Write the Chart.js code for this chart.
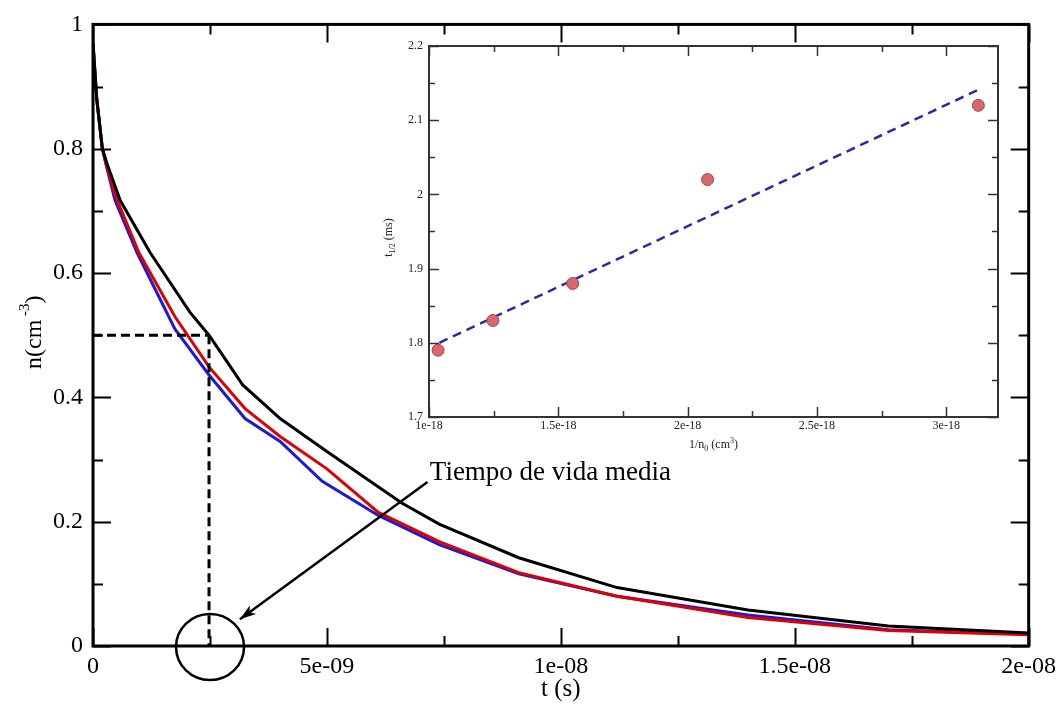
<!DOCTYPE html>
<html>
<head>
<meta charset="utf-8">
<script src="https://cdn.jsdelivr.net/npm/chart.js@4.4.1/dist/chart.umd.min.js"></script>
<style>
  html, body { margin: 0; padding: 0; background: #fff; }
  #wrap { position: relative; width: 1062px; height: 704px; }
  #wrap canvas { position: absolute; left: 0; top: 0; }
</style>
</head>
<body>
<div id="wrap">
  <canvas id="mainChart" width="1062" height="704"></canvas>
  <canvas id="insetChart" width="1062" height="704"></canvas>
</div>
<script>
// main plot, t in ns (ticks are labelled in seconds)
const tBlack = [0, 0.08, 0.2, 0.3, 0.58, 1.22, 2.07, 2.48, 3.2, 4.0, 5.0, 6.6, 7.4, 9.1, 11.2, 14.0, 17.0, 20.0];
const nBlack = [0.97, 0.88, 0.80, 0.776, 0.717, 0.633, 0.537, 0.50, 0.42, 0.366, 0.313, 0.23, 0.196, 0.142, 0.094, 0.058, 0.032, 0.021];

const tRed = [0, 0.08, 0.2, 0.3, 0.5, 0.98, 1.75, 2.48, 3.25, 4.0, 5.0, 6.1, 7.4, 9.1, 11.2, 14.0, 17.0, 20.0];
const nRed = [0.97, 0.88, 0.80, 0.77, 0.72, 0.633, 0.53, 0.449, 0.382, 0.337, 0.285, 0.215, 0.168, 0.118, 0.08, 0.046, 0.025, 0.018];

const tBlue = [0, 0.08, 0.2, 0.3, 0.47, 0.94, 1.75, 2.48, 3.25, 4.0, 4.9, 6.1, 7.4, 9.1, 11.2, 14.0, 17.0, 20.0];
const nBlue = [0.97, 0.88, 0.80, 0.768, 0.717, 0.633, 0.51, 0.436, 0.366, 0.329, 0.265, 0.21, 0.163, 0.116, 0.08, 0.05, 0.026, 0.019];

const xTickLabels = ["0", "5e-09", "1e-08", "1.5e-08", "2e-08"];
const yTickLabels = ["0", "0.2", "0.4", "0.6", "0.8", "1"];

// half-life
const halfLifeT = 2.48;
const halfLifeN = 0.5;

// inset, 1/n0 in units of 1e-18 cm^3
const invN0 = [1.035, 1.247, 1.556, 2.077, 3.124];
const tHalf = [1.79, 1.83, 1.88, 2.02, 2.12];
const fitX = [1.04, 3.13];
const fitY = [1.80, 2.142];

const insetXLabels = ["1e-18", "1.5e-18", "2e-18", "2.5e-18", "3e-18"];
const insetYLabels = ["1.7", "1.8", "1.9", "2", "2.1", "2.2"];

const SERIF = "'Liberation Serif', 'Times New Roman', serif";

function toPoints(xs, ys) {
  return xs.map((x, i) => ({ x: x, y: ys[i] }));
}

function ticksWithMinor(scale) {
  const vals = scale.ticks.map(t => t.value);
  const out = vals.map(v => ({ v: v, major: true }));
  const step = vals[1] - vals[0];
  for (let i = 0; i < vals.length; i++) {
    const m = vals[i] + step / 2;
    if (m <= scale.max + 1e-9) out.push({ v: m, major: false });
  }
  if (vals[0] - step / 2 >= scale.min - 1e-9) out.push({ v: vals[0] - step / 2, major: false });
  return out;
}

// frame + inward ticks on all four sides
const framePlugin = {
  id: "frame",
  afterDatasetsDraw(chart, args, opts) {
    const { ctx, chartArea: a, scales } = chart;
    const x = scales.x, y = scales.y;
    ctx.save();
    ctx.strokeStyle = opts.color;
    ctx.lineWidth = opts.tickWidth;
    ctx.beginPath();
    ticksWithMinor(x).forEach(t => {
      const px = Math.round(x.getPixelForValue(t.v)) + 0.5;
      const l = t.major ? opts.major : opts.minor;
      ctx.moveTo(px, a.bottom); ctx.lineTo(px, a.bottom - l);
      ctx.moveTo(px, a.top); ctx.lineTo(px, a.top + l);
    });
    ticksWithMinor(y).forEach(t => {
      const py = Math.round(y.getPixelForValue(t.v)) + 0.5;
      const l = t.major ? opts.major : opts.minor;
      ctx.moveTo(a.left, py); ctx.lineTo(a.left + l, py);
      ctx.moveTo(a.right, py); ctx.lineTo(a.right - l, py);
    });
    ctx.stroke();
    ctx.lineWidth = opts.frameWidth;
    ctx.strokeRect(a.left, a.top, a.width, a.height);
    ctx.restore();
  }
};

// dashed guides, circle, arrow and label on the main plot
const halfLifePlugin = {
  id: "halfLife",
  afterDatasetsDraw(chart) {
    const { ctx, chartArea: a, scales: { x, y } } = chart;
    const px = x.getPixelForValue(halfLifeT);
    const py = y.getPixelForValue(halfLifeN);
    ctx.save();
    ctx.strokeStyle = "#000";
    ctx.lineWidth = 3;
    ctx.setLineDash([9, 5]);
    ctx.beginPath();
    ctx.moveTo(a.left, py); ctx.lineTo(px, py);
    ctx.moveTo(px, py); ctx.lineTo(px, a.bottom);
    ctx.stroke();
    ctx.setLineDash([]);

    // circle round the half-life on the time axis
    ctx.lineWidth = 2.5;
    ctx.beginPath();
    ctx.ellipse(px + 1, a.bottom + 1, 34, 33, 0, 0, Math.PI * 2);
    ctx.stroke();

    // arrow from the label down to the circle
    const x0 = x.getPixelForValue(7.15), y0 = y.getPixelForValue(0.264);
    const x1 = x.getPixelForValue(3.14), y1 = y.getPixelForValue(0.043);
    ctx.lineWidth = 2.5;
    ctx.beginPath();
    ctx.moveTo(x0, y0); ctx.lineTo(x1, y1);
    ctx.stroke();
    const ang = Math.atan2(y1 - y0, x1 - x0);
    ctx.fillStyle = "#000";
    ctx.beginPath();
    ctx.moveTo(x1, y1);
    ctx.lineTo(x1 - 17 * Math.cos(ang - 0.32), y1 - 17 * Math.sin(ang - 0.32));
    ctx.lineTo(x1 - 12 * Math.cos(ang), y1 - 12 * Math.sin(ang));
    ctx.lineTo(x1 - 17 * Math.cos(ang + 0.32), y1 - 17 * Math.sin(ang + 0.32));
    ctx.closePath();
    ctx.fill();

    ctx.font = "27px " + SERIF;
    ctx.textAlign = "left";
    ctx.textBaseline = "alphabetic";
    ctx.fillText("Tiempo de vida media", x.getPixelForValue(7.2), y.getPixelForValue(0.267));

    // y axis title n(cm^-3)
    ctx.translate(41, (a.top + a.bottom) / 2 - 3);
    ctx.rotate(-Math.PI / 2);
    ctx.font = "24px " + SERIF;
    const w1 = ctx.measureText("n(cm").width;
    ctx.font = "15px " + SERIF;
    const w2 = ctx.measureText(" -3").width;
    ctx.font = "24px " + SERIF;
    const w3 = ctx.measureText(")").width;
    let cx = -(w1 + w2 + w3) / 2;
    ctx.fillText("n(cm", cx, 0); cx += w1;
    ctx.font = "15px " + SERIF;
    ctx.fillText(" -3", cx, -12); cx += w2;
    ctx.font = "24px " + SERIF;
    ctx.fillText(")", cx, 0);
    ctx.restore();
  }
};

// axis titles of the inset, with sub/superscripts
const insetTitlePlugin = {
  id: "insetTitles",
  afterDraw(chart) {
    const { ctx, chartArea: a } = chart;
    ctx.save();
    ctx.fillStyle = "#222";
    ctx.textBaseline = "alphabetic";
    ctx.textAlign = "left";
    const big = "12px " + SERIF, small = "8px " + SERIF;
    const parts = [["1/n", big, 0], ["0", small, 3], [" (cm", big, 0], ["3", small, -5], [")", big, 0]];
    const drawParts = (list, cx0, by) => {
      let total = 0;
      list.forEach(p => { ctx.font = p[1]; total += ctx.measureText(p[0]).width; });
      let cx = cx0 - total / 2;
      list.forEach(p => { ctx.font = p[1]; ctx.fillText(p[0], cx, by + p[2]); cx += ctx.measureText(p[0]).width; });
    };
    drawParts(parts, (a.left + a.right) / 2, a.bottom + 31);

    ctx.translate(a.left - 37, (a.top + a.bottom) / 2 + 6);
    ctx.rotate(-Math.PI / 2);
    drawParts([["t", big, 0], ["1/2", small, 3], [" (ms)", big, 0]], 0, 0);
    ctx.restore();
  }
};

function lineSet(xs, ys, color) {
  return {
    data: toPoints(xs, ys),
    borderColor: color,
    borderWidth: 3,
    pointRadius: 0,
    tension: 0,
    fill: false
  };
}

new Chart(document.getElementById("mainChart"), {
  type: "line",
  data: {
    datasets: [
      lineSet(tBlack, nBlack, "#000000"),
      lineSet(tRed, nRed, "#e00000"),
      lineSet(tBlue, nBlue, "#1a1ad8")
    ]
  },
  options: {
    responsive: false,
    animation: false,
    devicePixelRatio: 1,
    layout: { padding: { top: 20, right: 33, left: 0, bottom: 0 } },
    plugins: {
      legend: { display: false },
      tooltip: { enabled: false },
      frame: { color: "#000", tickWidth: 2, frameWidth: 3, major: 18, minor: 10 }
    },
    scales: {
      x: {
        type: "linear",
        min: 0,
        max: 20,
        afterFit: s => { s.height = 58; },
        grid: { display: false, drawTicks: false },
        border: { display: false },
        ticks: {
          stepSize: 5,
          padding: 6,
          maxRotation: 0,
          autoSkip: false,
          color: "#000",
          font: { family: SERIF, size: 24 },
          callback: (v, i) => xTickLabels[i]
        },
        title: {
          display: true,
          text: "t (s)",
          color: "#000",
          font: { family: SERIF, size: 25 },
          padding: { top: 0, bottom: 0 }
        }
      },
      y: {
        type: "linear",
        min: 0,
        max: 1,
        afterFit: s => { s.width = 93; },
        grid: { display: false, drawTicks: false },
        border: { display: false },
        ticks: {
          stepSize: 0.2,
          padding: 10,
          color: "#000",
          font: { family: SERIF, size: 24 },
          callback: (v, i) => yTickLabels[i]
        }
      }
    }
  },
  plugins: [framePlugin, halfLifePlugin]
});

new Chart(document.getElementById("insetChart"), {
  type: "scatter",
  data: {
    datasets: [
      {
        type: "scatter",
        data: toPoints(invN0, tHalf),
        order: 0,
        pointRadius: 6,
        pointBackgroundColor: "#d9676b",
        pointBorderColor: "#a64646",
        pointBorderWidth: 1
      },
      {
        type: "line",
        data: toPoints(fitX, fitY),
        order: 1,
        borderColor: "#2a2aa8",
        borderWidth: 2.5,
        borderDash: [9, 6],
        pointRadius: 0,
        fill: false
      }
    ]
  },
  options: {
    responsive: false,
    animation: false,
    devicePixelRatio: 1,
    layout: { padding: { top: 46, right: 64, left: 380, bottom: 247 } },
    plugins: {
      legend: { display: false },
      tooltip: { enabled: false },
      frame: { color: "#333", tickWidth: 1.5, frameWidth: 2, major: 10, minor: 6 }
    },
    scales: {
      x: {
        type: "linear",
        min: 1,
        max: 3.2,
        afterFit: s => { s.height = 40; },
        grid: { display: false, drawTicks: false },
        border: { display: false },
        ticks: {
          stepSize: 0.5,
          includeBounds: false,
          padding: 2,
          maxRotation: 0,
          autoSkip: false,
          color: "#222",
          font: { family: SERIF, size: 12 },
          callback: (v, i) => insetXLabels[i]
        }
      },
      y: {
        type: "linear",
        min: 1.7,
        max: 2.2,
        afterFit: s => { s.width = 49; },
        grid: { display: false, drawTicks: false },
        border: { display: false },
        ticks: {
          stepSize: 0.1,
          padding: 6,
          color: "#222",
          font: { family: SERIF, size: 12 },
          callback: (v, i) => insetYLabels[i]
        }
      }
    }
  },
  plugins: [framePlugin, insetTitlePlugin]
});
</script>
</body>
</html>
